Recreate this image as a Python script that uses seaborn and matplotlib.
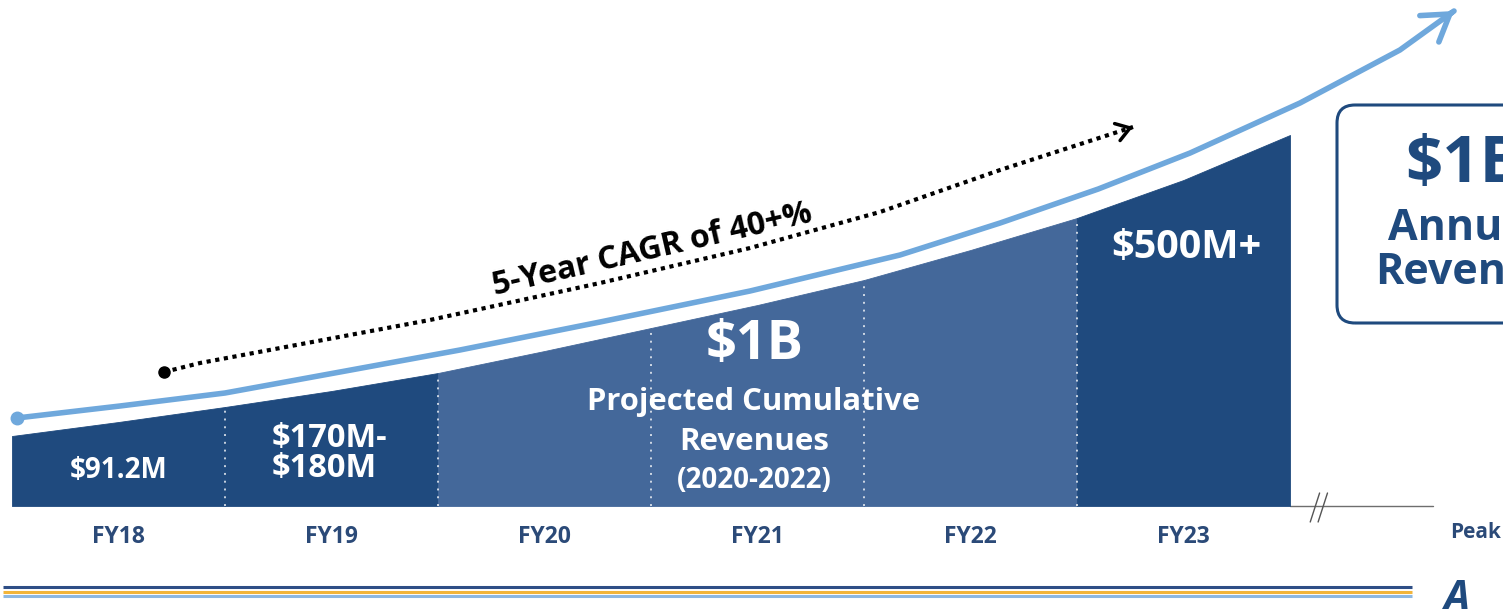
import numpy as np
import pandas as pd
import matplotlib
matplotlib.use("Agg")
import matplotlib.pyplot as plt
import seaborn as sns
from matplotlib.patches import FancyBboxPatch
from matplotlib.transforms import IdentityTransform

# ---------------- data ----------------
categories = ["FY18", "FY19", "FY20", "FY21", "FY22", "FY23"]
# visual height of the revenue area at segment edges and centres
edge_heights = [70, 99, 133, 178, 226, 288, 371]
mid_heights = [84, 115, 155, 201, 256, 326]
segment_colors = ["#1F4A7E", "#1F4A7E", "#44689A", "#44689A", "#44689A", "#1F4A7E"]

# light-blue growth curve (x in category units, y in height units)
trend_x = [-0.477, 0.007, 0.5, 1.04, 1.603, 2.261, 2.965, 3.669, 4.139, 4.600, 5.031, 5.547, 6.016, 6.270]
trend_y = [88, 100, 113, 134, 156, 184, 215, 251, 283, 317, 353, 403, 456, 495]

# dotted CAGR arrow
cagr_x = [0.214, 0.383, 1.462, 2.261, 2.965, 3.575, 4.139, 4.763]
cagr_y = [134, 143, 186, 223, 258, 294, 336, 379]

seg_labels_small = ["$91.2M"]
fy19_lines = ["$170M-", "$180M"]
mid_big = "$1B"
mid_lines = ["Projected Cumulative", "Revenues", "(2020-2022)"]
fy23_label = "$500M+"
cagr_label = "5-Year CAGR of 40+%"
box_lines = ["$1B", "Annual", "Revenues"]
peak_label = "Peak"

NAVY = "#1F4A7E"
LIGHT = "#6FA8DC"

sns.set_theme(style="white")
plt.rcParams["font.family"] = ["Open Sans", "DejaVu Sans"]

fig = plt.figure(figsize=(15.03, 6.09), dpi=100)
ax = fig.add_axes([0, 0, 1, 1])
ax.set_xlim(-0.5563, 6.5)
ax.set_ylim(-103, 506)
ax.axis("off")

# area segments
for i, c in enumerate(segment_colors):
    xs = [i - 0.5, i, i + 0.5]
    ys = [edge_heights[i], mid_heights[i], edge_heights[i + 1]]
    ax.fill_between(xs, 0, ys, color=c, lw=0.6, edgecolor=c, zorder=2)

# dotted separators
for b in range(1, 6):
    ax.plot([b - 0.5, b - 0.5], [0, edge_heights[b] - 3], color="white",
            lw=1.4, ls=(0, (1, 3)), alpha=0.75, zorder=3)

# baseline with break
ax.plot([5.5, 6.171], [0, 0], color="#6E6E6E", lw=1.0, zorder=1)
for u in (5.617, 5.654):
    ax.plot([u - 0.022, u + 0.022], [-16, 13], color="#555555", lw=1.0, zorder=1)


def head_from(xs, ys, frac=0.04):
    """start point for an arrow head placed on the last segment"""
    return (xs[-1] - frac * (xs[-1] - xs[-2]), ys[-1] - frac * (ys[-1] - ys[-2]))


# growth curve
sns.lineplot(x=trend_x, y=trend_y, ax=ax, color=LIGHT, lw=4, sort=False,
             estimator=None, zorder=4)
ax.plot(trend_x[0], trend_y[0], "o", ms=9, color=LIGHT, zorder=4)
ax.annotate("", xy=(trend_x[-1], trend_y[-1]), xytext=head_from(trend_x, trend_y),
            arrowprops=dict(arrowstyle="->,head_length=0.7,head_width=0.45",
                            color=LIGHT, lw=4, mutation_scale=26,
                            shrinkA=0, shrinkB=0), zorder=4)

# dotted CAGR arrow
ax.plot(cagr_x, cagr_y, color="black", lw=3, ls=(0, (1, 1.1)), zorder=5)
ax.plot(cagr_x[0], cagr_y[0], "o", ms=8, color="black", zorder=5)
ax.annotate("", xy=(cagr_x[-1], cagr_y[-1]), xytext=head_from(cagr_x, cagr_y, 0.02),
            arrowprops=dict(arrowstyle="->,head_length=0.6,head_width=0.4",
                            color="black", lw=2.5, mutation_scale=16,
                            shrinkA=0, shrinkB=0), zorder=5)
ax.text(2.505, 256, cagr_label, rotation=13, ha="center", va="center",
        fontsize=23, fontweight="bold", color="black", zorder=6)

# category labels
for i, cat in enumerate(categories):
    ax.text(i, -31, cat, ha="center", va="center", fontsize=16.5,
            fontweight="bold", color="#2B4A78")

# value labels
ax.text(0, 36, seg_labels_small[0], ha="center", va="center", fontsize=20,
        fontweight="bold", color="white", zorder=6)
ax.text(0.7207, 68, fy19_lines[0], ha="left", va="center", fontsize=23.5,
        fontweight="bold", color="white", zorder=6)
ax.text(0.7207, 38, fy19_lines[1], ha="left", va="center", fontsize=23.5,
        fontweight="bold", color="white", zorder=6)
ax.text(2.988, 161, mid_big, ha="center", va="center", fontsize=39,
        fontweight="bold", color="white", zorder=6)
ax.text(2.983, 104, mid_lines[0], ha="center", va="center", fontsize=22.3,
        fontweight="bold", color="white", zorder=6)
ax.text(2.983, 64, mid_lines[1], ha="center", va="center", fontsize=22.5,
        fontweight="bold", color="white", zorder=6)
ax.text(2.983, 26, mid_lines[2], ha="center", va="center", fontsize=20,
        fontweight="bold", color="white", zorder=6)
ax.text(5.012, 258, fy23_label, ha="center", va="center", fontsize=28.5,
        fontweight="bold", color="white", zorder=6)

# right box
box = FancyBboxPatch((1337, 609 - 323), 320, 218,
                     boxstyle="round,pad=0,rounding_size=18",
                     transform=IdentityTransform(), fill=False,
                     edgecolor=NAVY, lw=2.2, zorder=6)
fig.patches.append(box)
box.set_figure(fig)
ax.text(6.040, 341, box_lines[0], ha="left", va="center", fontsize=47,
        fontweight="bold", color=NAVY)
ax.text(5.960, 277, box_lines[1], ha="left", va="center", fontsize=31,
        fontweight="bold", color=NAVY)
ax.text(5.899, 234, box_lines[2], ha="left", va="center", fontsize=31,
        fontweight="bold", color=NAVY)
ax.text(6.251, -26, peak_label, ha="left", va="center", fontsize=15,
        fontweight="bold", color="#2B4A78")
ax.text(6.22, -93, "A", ha="left", va="center", fontsize=30, fontstyle="italic",
        fontweight="bold", color=NAVY)

# bottom stripes
for h, col in [(-81, "#2E4E86"), (-86, "#F2B53A"), (-90, "#8DB8E2")]:
    ax.plot([-0.542, 6.073], [h, h], color=col, lw=2.2, solid_capstyle="butt")

fig.savefig("out.png", dpi=100)
